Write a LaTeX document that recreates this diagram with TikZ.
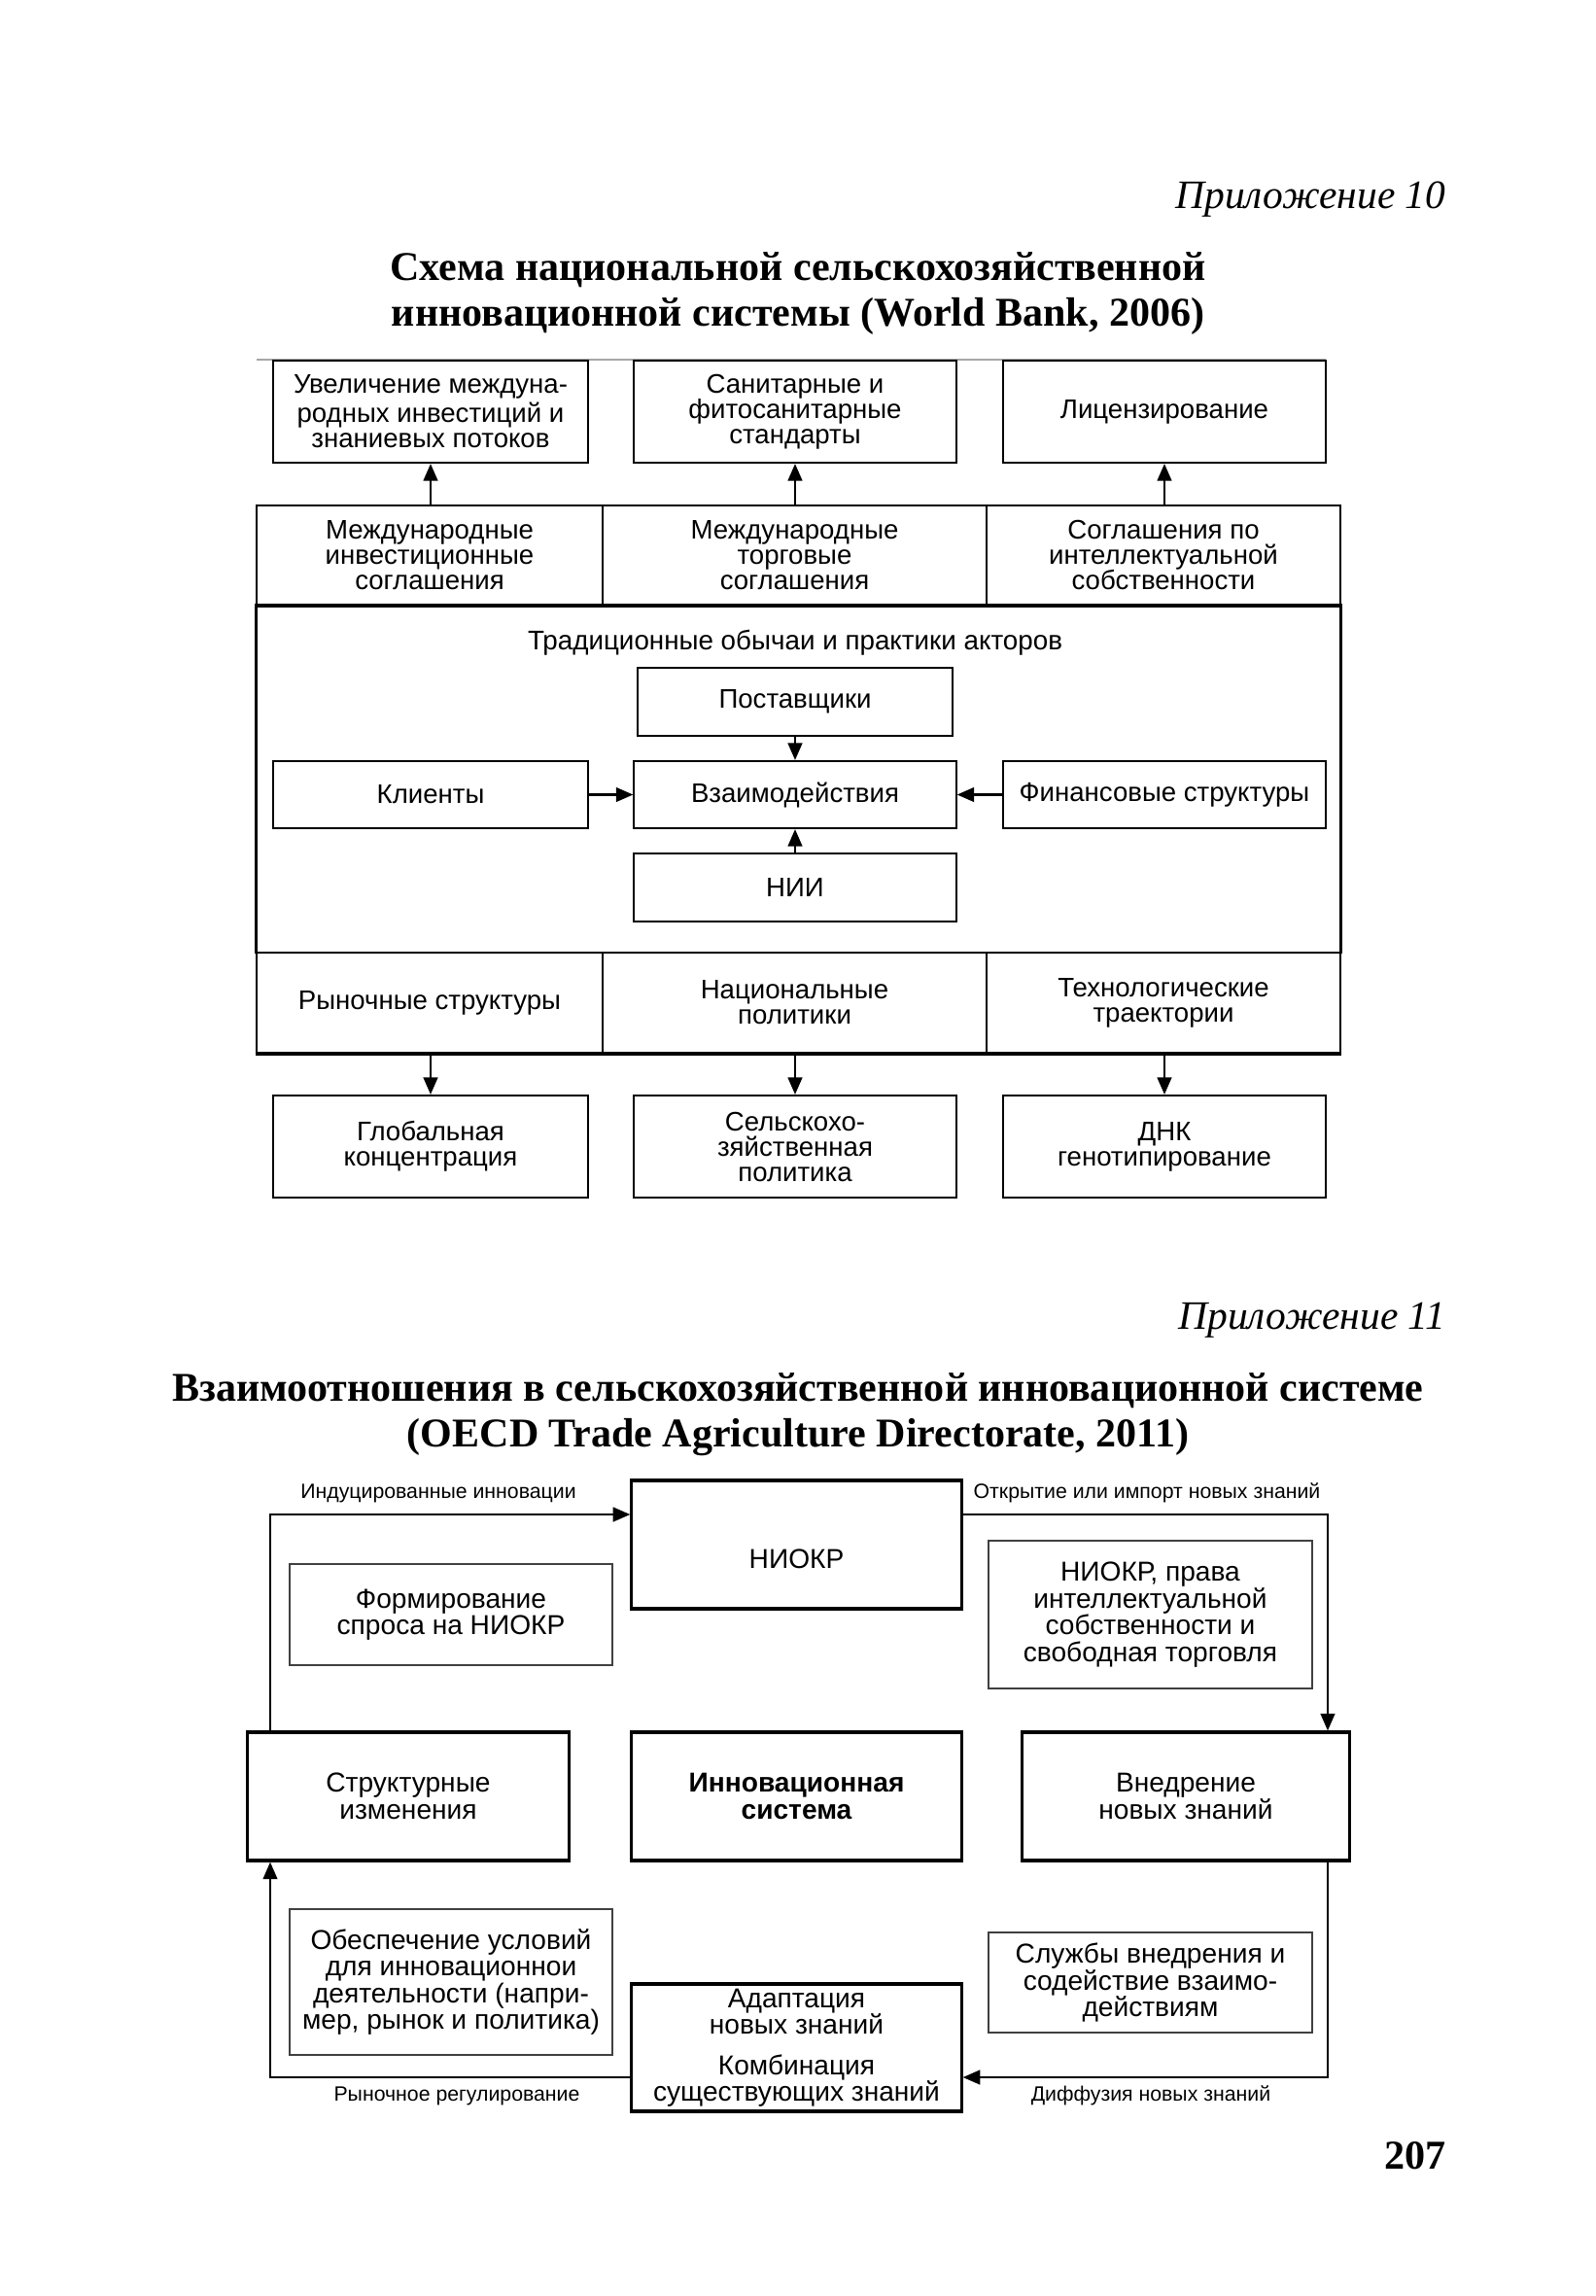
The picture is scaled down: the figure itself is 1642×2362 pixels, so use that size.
\documentclass[tikz,border=0pt]{standalone}
\usepackage{fontspec}
\setmainfont{Liberation Serif}
\newfontfamily\arialf{Liberation Sans}
\usetikzlibrary{arrows.meta,calc}
\begin{document}
\begin{tikzpicture}[x=0.01cm,y=-0.01cm,
  ubox/.style={draw, line width=0.6pt, rectangle, inner sep=0pt, align=center,
    font=\arialf\fontsize{7.85}{7.4}\selectfont},
  cell/.style={ubox, line width=0.7pt},
  plain/.style={inner sep=0pt, align=center, font=\arialf\fontsize{7.9}{7.4}\selectfont},
  lbox/.style={draw, line width=0.9pt, rectangle, inner sep=0pt, align=center,
    font=\arialf\fontsize{8}{7.8}\selectfont},
  tbox/.style={draw=black!75, line width=0.4pt, rectangle, inner sep=0pt, align=center,
    font=\arialf\fontsize{8}{7.8}\selectfont},
  lab/.style={inner sep=0pt, font=\arialf\fontsize{6.05}{7}\selectfont},
  arr/.style={-{Triangle[length=5pt,width=4.2pt]}, line width=0.6pt},
  apx/.style={inner sep=0pt, font=\itshape\fontsize{11.8}{14}\selectfont},
  ttl/.style={inner sep=0pt, align=center, font=\bfseries\fontsize{11.95}{13.4}\selectfont}
]
\fill[white] (0,0) rectangle (1642,2362);
\useasboundingbox (0,0) rectangle (1642,2362);

% ---------- Appendix 10 ----------
\node[apx, anchor=base east] (app10) at (1488,214) {Приложение 10};
\node[ttl] (title1) at (821,302) {Схема национальной сельскохозяйственной\\инновационной системы (World Bank, 2006)};

\draw[black!35, line width=0.4pt] (264,370) -- (1364,370);

\node[ubox, minimum width=3.24cm, minimum height=1.05cm] (t1) at (443,423.5) {Увеличение междуна-\\родных инвестиций и\\знаниевых потоков};
\node[ubox, minimum width=3.32cm, minimum height=1.05cm] (t2) at (818,423.5) {Санитарные и\\фитосанитарные\\стандарты};
\node[ubox, minimum width=3.32cm, minimum height=1.05cm] (t3) at (1198,423.5) {Лицензирование};

\node[cell, minimum width=3.56cm, minimum height=1.02cm] (m1) at (442,571) {Международные\\инвестиционные\\соглашения};
\node[cell, minimum width=3.95cm, minimum height=1.02cm] (m2) at (817.5,571) {Международные\\торговые\\соглашения};
\node[cell, minimum width=3.64cm, minimum height=1.02cm] (m3) at (1197,571) {Соглашения по\\интеллектуальной\\собственности};

\node[cell, minimum width=11.15cm, minimum height=3.58cm] (core) at (821.5,801) {};
\node[plain] (trad) at (818,661) {Традиционные обычаи и практики акторов};

\node[ubox, minimum width=3.23cm, minimum height=0.70cm] (sup) at (818,722) {Поставщики};
\node[ubox, minimum width=3.31cm, minimum height=0.69cm] (inter) at (818,817.5) {Взаимодействия};
\node[ubox, minimum width=3.24cm, minimum height=0.69cm] (cli) at (443,817.5) {Клиенты};
\node[ubox, minimum width=3.32cm, minimum height=0.69cm] (fin) at (1198,817.5) {Финансовые структуры};
\node[ubox, minimum width=3.31cm, minimum height=0.70cm] (nii) at (818,913) {НИИ};

\node[cell, minimum width=3.56cm, minimum height=1.03cm] (b1) at (442,1031.5) {Рыночные структуры};
\node[cell, minimum width=3.95cm, minimum height=1.03cm] (b2) at (817.5,1031.5) {Национальные\\политики};
\node[cell, minimum width=3.64cm, minimum height=1.03cm] (b3) at (1197,1031.5) {Технологические\\траектории};

\draw[line width=1.1pt] (m1.south west) -- (m3.south east);
\draw[line width=1.1pt] (b1.south west) -- (b3.south east);

\node[ubox, minimum width=3.24cm, minimum height=1.05cm] (bb1) at (443,1179.5) {Глобальная\\концентрация};
\node[ubox, minimum width=3.31cm, minimum height=1.05cm] (bb2) at (818,1179.5) {Сельскохо-\\зяйственная\\политика};
\node[ubox, minimum width=3.32cm, minimum height=1.05cm] (bb3) at (1198,1179.5) {ДНК\\генотипирование};

\draw[arr] (t1.south |- m1.north) -- (t1.south);
\draw[arr] (t2.south |- m2.north) -- (t2.south);
\draw[arr] (t3.south |- m3.north) -- (t3.south);
\draw[arr] (sup.south) -- (inter.north);
\draw[arr] (nii.north) -- (inter.south);
\draw[arr] (cli.east) -- (inter.west);
\draw[arr] (fin.west) -- (inter.east);
\draw[arr] (bb1.north |- b1.south) -- (bb1.north);
\draw[arr] (bb2.north |- b2.south) -- (bb2.north);
\draw[arr] (bb3.north |- b3.south) -- (bb3.north);

% ---------- Appendix 11 ----------
\node[apx, anchor=base east] (app11) at (1488,1367) {Приложение 11};
\node[ttl] (title2) at (821,1455) {Взаимоотношения в сельскохозяйственной инновационной системе\\(OECD Trade Agriculture Directorate, 2011)};

\node[lbox, minimum width=3.39cm, minimum height=1.32cm, text height=14pt, text depth=0pt] (niokr) at (819.5,1589) {НИОКР};
\node[tbox, minimum width=3.32cm, minimum height=1.04cm] (form) at (464,1661) {Формирование\\спроса на НИОКР};
\node[tbox, minimum width=3.33cm, minimum height=1.52cm] (rights) at (1183.5,1661) {НИОКР, права\\интеллектуальной\\собственности и\\свободная торговля};
\node[lbox, minimum width=3.30cm, minimum height=1.32cm] (struct) at (420,1848) {Структурные\\изменения};
\node[lbox, minimum width=3.39cm, minimum height=1.32cm, font=\arialf\bfseries\fontsize{8}{7.8}\selectfont] (innov) at (819.5,1848) {Инновационная\\система};
\node[lbox, minimum width=3.37cm, minimum height=1.32cm] (impl) at (1220,1848) {Внедрение\\новых знаний};
\node[tbox, minimum width=3.32cm, minimum height=1.50cm] (cond) at (464,2039) {Обеспечение условий\\для инновационнои\\деятельности (напри-\\мер, рынок и политика)};
\node[lbox, minimum width=3.39cm, minimum height=1.31cm] (adapt) at (819.5,2106.5) {Адаптация\\новых знаний\\[4pt]Комбинация\\существующих знаний};
\node[tbox, minimum width=3.33cm, minimum height=1.03cm] (serv) at (1183.5,2039.5) {Службы внедрения и\\содействие взаимо-\\действиям};

\coordinate (lt) at (278,1558);
\coordinate (rt) at (1366,1558);
\coordinate (lb) at (278,2137);
\coordinate (rb) at (1366,2137);

\draw[arr] (lt |- struct.north) -- (lt) -- (lt -| niokr.west);
\draw[arr] (niokr.east |- rt) -- (rt) -- (rt |- impl.north);
\draw[arr] (rb |- impl.south) -- (rb) -- (rb -| adapt.east);
\draw[arr] (lb -| adapt.west) -- (lb) -- (lb |- struct.south);

\node[lab] (l1) at (451,1536) {Индуцированные инновации};
\node[lab] (l2) at (1180,1536) {Открытие или импорт новых знаний};
\node[lab] (l3) at (470,2156) {Рыночное регулирование};
\node[lab] (l4) at (1184,2156) {Диффузия новых знаний};

\node[inner sep=0pt, anchor=base east, font=\bfseries\fontsize{12}{14}\selectfont] (pg) at (1488,2231) {207};
\end{tikzpicture}
\end{document}
